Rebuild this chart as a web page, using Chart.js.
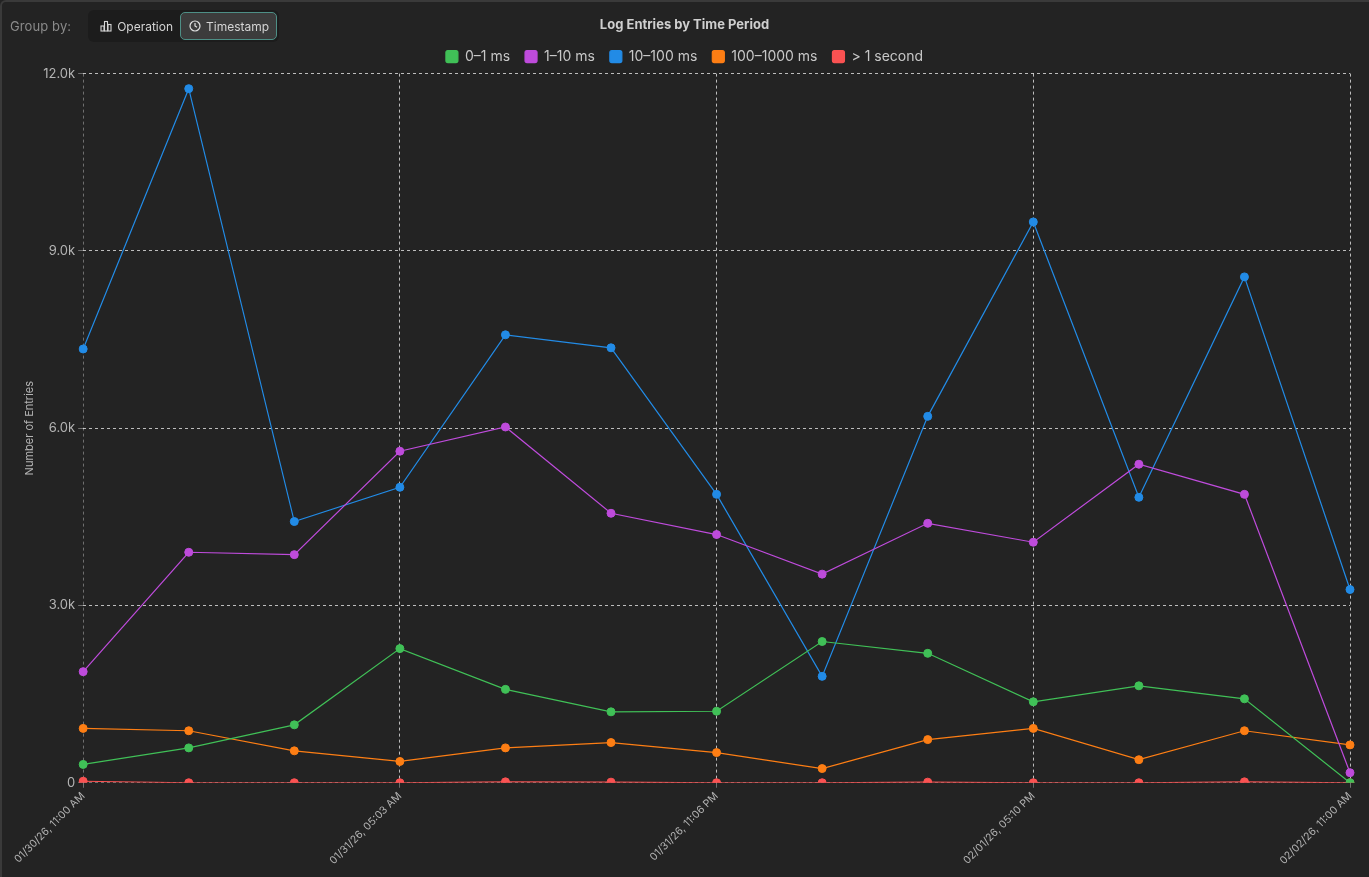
<!DOCTYPE html>
<html>
<head>
<meta charset="utf-8">
<script src="https://cdn.jsdelivr.net/npm/chart.js@4"></script>
<style>
  html, body { margin: 0; padding: 0; background: #232323; }
  body { width: 1369px; height: 877px; overflow: hidden; position: relative; font-family: Inter, "Noto Sans", sans-serif; }
  .frame { position: absolute; left: 0; top: 0; width: 1369px; height: 877px; box-sizing: border-box; border-left: 2px solid #3a3a3a; border-top: 2px solid #3a3a3a; border-top-left-radius: 6px; }
  #wrap { position: absolute; left: 0; top: 0; width: 1369px; height: 877px; }
  .toolbar { position: absolute; left: 10px; top: 10px; display: flex; align-items: center; z-index: 2; }
  .lbl { color: #8a8a8a; font-size: 13px; margin-right: 17px; letter-spacing: 0.1px; }
  .group { display: flex; align-items: center; background: #1c1c1c; border-radius: 6px; padding: 2px; height: 28px; }
  .btn { display: flex; align-items: center; height: 26px; padding: 0 7px 0 10px; color: #d4d4d4; font-size: 12px; border-radius: 5px; box-sizing: border-box; }
  .btn svg { margin-right: 5px; }
  .btn.sel { background: #3c3c3c; border: 1.5px solid #4e8f86; height: 28px; padding: 0 7px 0 8px; }
</style>
</head>
<body>
<div class="frame"></div>
<div id="wrap"><canvas id="c"></canvas></div>
<div class="toolbar">
  <span class="lbl">Group by:</span>
  <div class="group">
    <div class="btn">
      <svg width="12" height="12" viewBox="0 0 12 12" fill="none" stroke="#d4d4d4" stroke-width="1.1"><rect x="1" y="6" width="3" height="5"/><rect x="4.5" y="1.5" width="3" height="9.5"/><rect x="8" y="4.5" width="3" height="6.5"/></svg>
      Operation
    </div>
    <div class="btn sel">
      <svg width="12" height="12" viewBox="0 0 12 12" fill="none" stroke="#e0e0e0" stroke-width="1.2"><circle cx="6" cy="6" r="5"/><path d="M6 3v3l2 1.3"/></svg>
      Timestamp
    </div>
  </div>
</div>
<script>
const timeLabels = [
  "01/30/26, 11:00 AM", "01/30/26, 05:01 PM", "01/30/26, 11:02 PM",
  "01/31/26, 05:03 AM", "01/31/26, 11:04 AM", "01/31/26, 05:05 PM",
  "01/31/26, 11:06 PM", "02/01/26, 05:07 AM", "02/01/26, 11:08 AM",
  "02/01/26, 05:10 PM", "02/01/26, 11:11 PM", "02/02/26, 05:12 AM",
  "02/02/26, 11:00 AM"
];
const seriesNames = ["0–1 ms", "1–10 ms", "10–100 ms", "100–1000 ms", "> 1 second"];
const v0to1 = [310, 590, 980, 2270, 1580, 1200, 1210, 2390, 2190, 1370, 1640, 1420, 0];
const v1to10 = [1880, 3900, 3860, 5610, 6020, 4560, 4200, 3530, 4390, 4070, 5390, 4880, 170];
const v10to100 = [7340, 11745, 4420, 5000, 7580, 7360, 4880, 1800, 6200, 9490, 4830, 8560, 3270];
const v100to1000 = [920, 880, 540, 360, 590, 680, 510, 240, 730, 920, 390, 880, 640];
const vOver1s = [25, 0, 0, 0, 15, 10, 0, 0, 10, 0, 0, 15, 0];
const yTicks = [0, 3000, 6000, 9000, 12000];
const colors = ["#40c057", "#be4bdb", "#228be6", "#fd7e14", "#fa5252"];

const allValues = [v0to1, v1to10, v10to100, v100to1000, vOver1s];
const datasets = allValues.map((vals, i) => ({
  label: seriesNames[i],
  data: vals,
  borderColor: colors[i],
  backgroundColor: colors[i],
  pointBackgroundColor: colors[i],
  pointBorderColor: colors[i],
  borderWidth: 1.2,
  pointRadius: 4,
  pointBorderWidth: 1,
  tension: 0
}));

const fontFam = 'Inter, "Noto Sans", sans-serif';
new Chart(document.getElementById('c'), {
  type: 'line',
  data: { labels: timeLabels, datasets },
  options: {
    responsive: true,
    maintainAspectRatio: false,
    animation: false,
    layout: { padding: { left: 19, right: 19, top: 7, bottom: 8 } },
    plugins: {
      title: {
        display: true,
        text: 'Log Entries by Time Period',
        color: '#cfcfcf',
        font: { family: fontFam, size: 13, weight: 'bold' },
        padding: { top: 10, bottom: 2 }
      },
      legend: {
        labels: {
          color: '#c8c8c8',
          font: { family: fontFam, size: 14 },
          boxWidth: 12, boxHeight: 12,
          useBorderRadius: true, borderRadius: 2,
          padding: 15
        }
      },
      tooltip: { enabled: false }
    },
    scales: {
      x: {
        grid: {
          color: (ctx) => (ctx.index === 0 || ctx.index === timeLabels.length - 1) ? 'rgba(255,255,255,0.35)' : 'rgba(255,255,255,0.7)',
          tickLength: 5,
          tickColor: 'rgba(255,255,255,0.35)'
        },
        border: { display: false, dash: [3, 3] },
        ticks: {
          autoSkip: false,
          minRotation: 45, maxRotation: 45,
          color: '#b4b4b4',
          font: { family: fontFam, size: 10.5 },
          padding: 2,
          callback: function (val, idx) { return idx % 3 === 0 ? this.getLabelForValue(val) : null; }
        }
      },
      y: {
        min: 0, max: 12000,
        afterBuildTicks: (axis) => { axis.ticks = yTicks.map(v => ({ value: v })); },
        grid: {
          color: (ctx) => ctx.tick && ctx.tick.value === 0 ? 'rgba(255,255,255,0.35)' : 'rgba(255,255,255,0.7)',
          tickLength: 5,
          tickColor: 'rgba(255,255,255,0.35)'
        },
        border: { display: false, dash: [3, 3] },
        title: {
          display: true,
          text: 'Number of Entries',
          color: '#b4b4b4',
          font: { family: fontFam, size: 11 }
        },
        ticks: {
          color: '#b4b4b4',
          font: { family: fontFam, size: 13 },
          padding: 3,
          callback: (v) => v === 0 ? '0' : (v / 1000).toFixed(1) + 'k'
        }
      }
    }
  }
});
</script>
</body>
</html>
